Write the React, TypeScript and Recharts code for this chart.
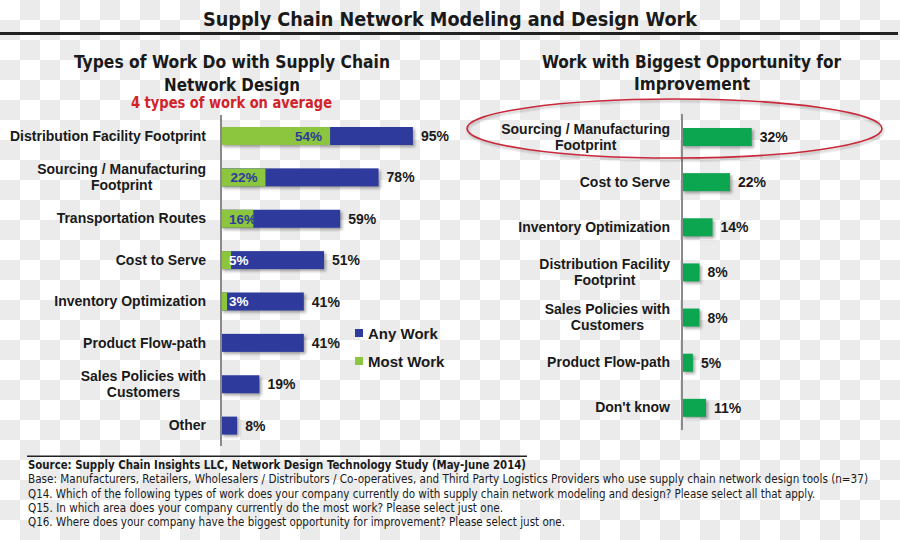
import { BarChart, Bar, XAxis, YAxis, Legend, LabelList, ReferenceDot } from 'recharts'

// Types of work done (left panel)
const workTypes = [
  'Distribution Facility Footprint',
  'Sourcing / Manufacturing\nFootprint',
  'Transportation Routes',
  'Cost to Serve',
  'Inventory Optimization',
  'Product Flow-path',
  'Sales Policies with\nCustomers',
  'Other',
]
const anyWork = [95, 78, 59, 51, 41, 41, 19, 8]
const mostWork: (number | null)[] = [54, 22, 16, 5, 3, null, null, null]

// Biggest opportunity for improvement (right panel)
const opportunityAreas = [
  'Sourcing / Manufacturing\nFootprint',
  'Cost to Serve',
  'Inventory Optimization',
  'Distribution Facility\nFootprint',
  'Sales Policies with\nCustomers',
  'Product Flow-path',
  "Don't know",
]
const opportunity = [32, 22, 14, 8, 8, 5, 11]

const title = 'Supply Chain Network Modeling and Design Work'
const leftTitle = ['Types of Work Do with Supply Chain', 'Network Design']
const leftNote = '4 types of work on average'
const rightTitle = ['Work with Biggest Opportunity for', 'Improvement']
const footnotes = [
  'Source:  Supply Chain Insights LLC, Network Design Technology Study (May-June 2014)',
  'Base: Manufacturers, Retailers, Wholesalers / Distributors / Co-operatives, and Third Party Logistics Providers who use supply chain network design tools (n=37)',
  'Q14. Which of the following types of work does your company currently do with supply chain network modeling and design?  Please select all that apply.',
  'Q15. In which area does your company currently do the most work?  Please select just one.',
  'Q16. Where does your company have the biggest opportunity for improvement? Please select just one.',
]

const NAVY = '#2e3a9c'
const LIME = '#8cc63e'
const GREEN = '#0ba64f'
const INK = '#1a1a1a'
const SANS = '"Liberation Sans", Arial, sans-serif'
const NARROW = '"Liberation Sans Narrow", "Arial Narrow", "DejaVu Sans Condensed", sans-serif'

const leftData = workTypes.map((label, i) => ({ label, any: anyWork[i], most: mostWork[i] }))
const rightData = opportunityAreas.map((label, i) => ({ label, value: opportunity[i] }))

let ctx: CanvasRenderingContext2D | null = null
function textWidth(s: string, font: string) {
  if (!ctx) ctx = document.createElement('canvas').getContext('2d')
  if (!ctx) return s.length * 7
  ctx.font = font
  return ctx.measureText(s).width
}

// right-aligned block of centred lines
function CategoryTick(props: any) {
  const { x, y, payload } = props
  const lines = String(payload.value).split('\n')
  const w = Math.max(...lines.map((l) => textWidth(l, `bold 14px ${SANS}`)))
  const cx = x - w / 2
  const top = y - (lines.length - 1) * 8
  return (
    <text textAnchor="middle" fontFamily={SANS} fontWeight="bold" fontSize={14} fill={INK}>
      {lines.map((l, i) => (
        <tspan key={i} x={cx} y={top + i * 16} dy="0.36em">{l}</tspan>
      ))}
    </text>
  )
}

function ShadowBar(props: any) {
  const { x, y, width, height, fill } = props
  if (!width || width <= 0) return null
  return (
    <rect x={x} y={y} width={width} height={height} fill={fill}
      style={{ filter: 'drop-shadow(2px 2px 1.5px rgba(0,0,0,0.35))' }} />
  )
}

function OuterLabel(props: any) {
  const { x, y, width, height, value } = props
  if (value == null) return null
  return (
    <text x={x + width + 8} y={y + height / 2} dy="0.36em" fontFamily={SANS} fontWeight="bold"
      fontSize={14} fill={INK}>{value}%</text>
  )
}

function InnerLabel(props: any) {
  const { x, y, width, height, value } = props
  if (value == null) return null
  const label = `${value}%`
  const tw = textWidth(label, `bold 13.5px ${SANS}`)
  const start = Math.max(x + width - 8 - tw, x + 8)
  return (
    <text x={start} y={y + height / 2} dy="0.36em" fontFamily={SANS} fontWeight="bold"
      fontSize={13.5} fill={value < 10 ? '#ffffff' : NAVY}>{label}</text>
  )
}

function LegendBox({ payload }: any) {
  return (
    <div style={{ fontFamily: SANS, fontWeight: 'bold', fontSize: 15, color: INK }}>
      {(payload || []).map((p: any) => (
        <div key={p.value} style={{ display: 'flex', alignItems: 'center', height: 28, whiteSpace: 'nowrap' }}>
          <span style={{ width: 8, height: 8, background: p.color, marginRight: 5, display: 'inline-block' }} />
          {p.value}
        </div>
      ))}
    </div>
  )
}

function Highlight(props: any) {
  const { cx, cy } = props
  return (
    <ellipse cx={cx - 7.5} cy={cy - 8} rx={207.5} ry={29.5} fill="none" stroke="#c8283a" strokeWidth={1.6}
      style={{ filter: 'drop-shadow(1px 2px 1px rgba(0,0,0,0.25))' }} />
  )
}

const axisLine = { stroke: '#8a8a8a', strokeWidth: 2 }
const footWidths = [498, 840, 787, 475, 537]

export default function App() {
  return (
    <div
      style={{
        position: 'absolute', left: 0, top: 0, width: 900, height: 540, overflow: 'hidden',
        backgroundColor: '#ffffff',
        backgroundImage: 'repeating-conic-gradient(#ebebeb 0 25%, #ffffff 0 50%)',
        backgroundSize: '40px 40px',
        fontFamily: SANS,
      }}
    >
      <svg width={900} height={540} style={{ position: 'absolute', left: 0, top: 0 }}>
        <text x={450} y={19} dy="0.36em" textAnchor="middle" fontFamily={NARROW} fontWeight="bold" fontSize={20}
          fill={INK} textLength={494} lengthAdjust="spacingAndGlyphs">{title}</text>
        <rect x={0} y={32} width={898} height={3} fill="#222" />

        <text x={232} y={62} dy="0.36em" textAnchor="middle" fontFamily={NARROW} fontWeight="bold" fontSize={18}
          fill={INK} textLength={316} lengthAdjust="spacingAndGlyphs">{leftTitle[0]}</text>
        <text x={232} y={85} dy="0.36em" textAnchor="middle" fontFamily={NARROW} fontWeight="bold" fontSize={18}
          fill={INK} textLength={136} lengthAdjust="spacingAndGlyphs">{leftTitle[1]}</text>
        <text x={231.5} y={103} dy="0.36em" textAnchor="middle" fontFamily={NARROW} fontWeight="bold" fontSize={15}
          fill="#d2232a" textLength={201} lengthAdjust="spacingAndGlyphs">{leftNote}</text>

        <text x={691.5} y={62} dy="0.36em" textAnchor="middle" fontFamily={NARROW} fontWeight="bold" fontSize={18}
          fill={INK} textLength={299} lengthAdjust="spacingAndGlyphs">{rightTitle[0]}</text>
        <text x={692} y={84} dy="0.36em" textAnchor="middle" fontFamily={NARROW} fontWeight="bold" fontSize={18}
          fill={INK} textLength={116} lengthAdjust="spacingAndGlyphs">{rightTitle[1]}</text>

        <rect x={27} y={455.5} width={500} height={1.5} fill="#222" />
        {footnotes.map((f, i) => (
          <text key={i} x={28} y={465 + i * 14.2} dy="0.36em" fontFamily={NARROW}
            fontWeight={i === 0 ? 'bold' : 'normal'} fontSize={11.5} fill={INK}
            textLength={footWidths[i]} lengthAdjust="spacingAndGlyphs">{f}</text>
        ))}
      </svg>

      <div style={{ position: 'absolute', left: 0, top: 115 }}>
        <BarChart layout="vertical" width={460} height={331} data={leftData}
          margin={{ top: 0, right: 37, bottom: 0, left: 0 }} barGap={-18} barCategoryGap={0}>
          <XAxis type="number" domain={[0, 100]} hide />
          <YAxis type="category" dataKey="label" width={221} axisLine={axisLine} tickLine={false}
            tickSize={0} tickMargin={15} interval={0} tick={<CategoryTick />} />
          <Legend layout="horizontal" verticalAlign="middle" align="center" content={<LegendBox />}
            wrapperStyle={{ left: 355, top: 204, width: 110, height: 56 }} />
          <Bar dataKey="any" name="Any Work" fill={NAVY} barSize={18} isAnimationActive={false} shape={<ShadowBar />}>
            <LabelList dataKey="any" content={<OuterLabel />} />
          </Bar>
          <Bar dataKey="most" name="Most Work" fill={LIME} barSize={18} isAnimationActive={false}>
            <LabelList dataKey="most" content={<InnerLabel />} />
          </Bar>
        </BarChart>
      </div>

      <div style={{ position: 'absolute', left: 460, top: 95 }}>
        <BarChart layout="vertical" width={440} height={335} data={rightData}
          margin={{ top: 19, right: 0, bottom: 0, left: 0 }} barCategoryGap={0}>
          <XAxis type="number" domain={[0, 100]} hide />
          <YAxis type="category" dataKey="label" width={222} axisLine={axisLine} tickLine={false}
            tickSize={0} tickMargin={12} interval={0} tick={<CategoryTick />} />
          <Bar dataKey="value" name="Opportunity" fill={GREEN} barSize={18} isAnimationActive={false}
            shape={<ShadowBar />}>
            <LabelList dataKey="value" content={<OuterLabel />} />
          </Bar>
          <ReferenceDot x={0} y={opportunityAreas[0]} r={0} ifOverflow="visible" shape={<Highlight />} />
        </BarChart>
      </div>
    </div>
  )
}
